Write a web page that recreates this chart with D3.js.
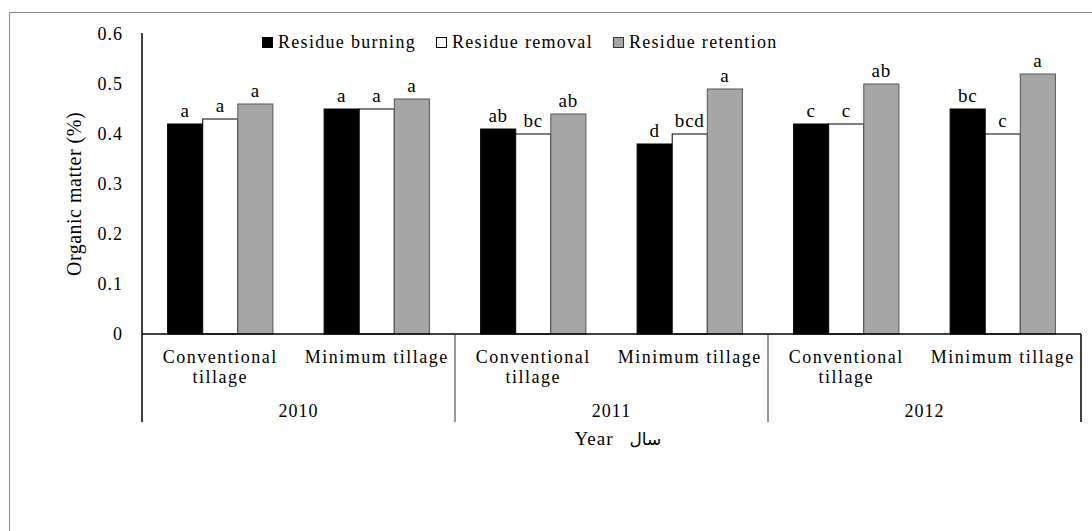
<!DOCTYPE html>
<html>
<head>
<meta charset="utf-8">
<script src="https://cdn.jsdelivr.net/npm/d3@7"></script>
<style>
  body { margin: 0; background: #fff; }
  text { font-family: "Liberation Serif", "Times New Roman", serif; fill: #000; }
</style>
</head>
<body>
<svg width="1092" height="531"></svg>
<script>
const svg = d3.select('svg');

// data
const years = ['2010', '2011', '2012'];
const tillage = ['Conventional tillage', 'Minimum tillage'];
const series = ['Residue burning', 'Residue removal', 'Residue retention'];
const burning   = [0.42, 0.45, 0.41, 0.38, 0.42, 0.45];
const removal   = [0.43, 0.45, 0.40, 0.40, 0.42, 0.40];
const retention = [0.46, 0.47, 0.44, 0.49, 0.50, 0.52];
const burningLetters   = ['a', 'a', 'ab', 'd', 'c', 'bc'];
const removalLetters   = ['a', 'a', 'bc', 'bcd', 'c', 'c'];
const retentionLetters = ['a', 'a', 'ab', 'a', 'ab', 'a'];
const yTicks = [0, 0.1, 0.2, 0.3, 0.4, 0.5, 0.6];

const fills = ['#000000', '#ffffff', '#a6a6a6'];
const strokes = ['#000000', '#000000', '#555555'];

const values = [burning, removal, retention];
const letters = [burningLetters, removalLetters, retentionLetters];

// 6 categories: year x tillage
const cats = [];
years.forEach(y => tillage.forEach(t => cats.push({ year: y, till: t, key: y + '|' + t })));

const plotLeft = 142, plotRight = 1081, plotTop = 34, plotBase = 334, plotBottom = 422;

const yScale = d3.scaleLinear().domain([0, 0.6]).range([plotBase, plotTop]);
const xScale = d3.scaleBand().domain(cats.map(d => d.key)).range([plotLeft, plotRight]);
const xSub = d3.scaleBand().domain(series).range([0, xScale.bandwidth()]).paddingOuter(0.73);

// outer frame
svg.append('rect')
  .attr('x', 9.5).attr('y', 12.5).attr('width', 1200).attr('height', 600)
  .attr('fill', 'none').attr('stroke', '#8c8c8c');

// y axis labels
svg.append('g').selectAll('text').data(yTicks).enter().append('text')
  .attr('x', 123)
  .attr('y', d => yScale(d))
  .attr('dy', '0.35em')
  .attr('text-anchor', 'end')
  .style('font-size', '18px')
  .style('letter-spacing', '1px')
  .text(d => d === 0 ? '0' : d.toFixed(1));

svg.append('text')
  .attr('transform', `translate(81,${(plotTop + plotBase) / 2 + 10}) rotate(-90)`)
  .attr('text-anchor', 'middle')
  .style('font-size', '20px')
  .style('letter-spacing', '0.5px')
  .text('Organic matter (%)');

// bars
const g = svg.append('g');
series.forEach((s, si) => {
  g.append('g').selectAll('rect').data(cats).enter().append('rect')
    .attr('x', d => xScale(d.key) + xSub(s))
    .attr('y', (d, i) => yScale(values[si][i]))
    .attr('width', xSub.bandwidth())
    .attr('height', (d, i) => plotBase - yScale(values[si][i]))
    .attr('fill', fills[si])
    .attr('stroke', strokes[si])
    .attr('stroke-width', 1);

  g.append('g').selectAll('text').data(cats).enter().append('text')
    .attr('x', d => xScale(d.key) + xSub(s) + xSub.bandwidth() / 2)
    .attr('y', (d, i) => yScale(values[si][i]) - 7)
    .attr('text-anchor', 'middle')
    .style('font-size', '19px')
    .style('letter-spacing', '0.8px')
    .text((d, i) => letters[si][i]);
});

// axes lines
svg.append('line').attr('x1', plotLeft).attr('x2', plotLeft).attr('y1', plotTop - 1).attr('y2', plotBottom)
  .attr('stroke', '#000').attr('stroke-width', 1.5);
svg.append('line').attr('x1', plotLeft).attr('x2', plotRight).attr('y1', plotBase).attr('y2', plotBase)
  .attr('stroke', '#000').attr('stroke-width', 1.5);

// year separators
const yearEdges = years.map((y, i) => xScale(cats[i * 2].key)).concat([plotRight]);
svg.append('g').selectAll('line').data(yearEdges.slice(1)).enter().append('line')
  .attr('x1', d => d).attr('x2', d => d)
  .attr('y1', plotBase).attr('y2', plotBottom)
  .attr('stroke', (d, i) => i === years.length - 1 ? '#000' : '#333')
  .attr('stroke-width', (d, i) => i === years.length - 1 ? 1.5 : 1);

// category labels
const catText = svg.append('g').selectAll('text').data(cats).enter().append('text')
  .attr('x', d => xScale(d.key) + xScale.bandwidth() / 2)
  .attr('y', 363)
  .attr('text-anchor', 'middle')
  .style('font-size', '18px')
  .style('letter-spacing', '1.5px');
catText.each(function (d) {
  const t = d3.select(this);
  const x = xScale(d.key) + xScale.bandwidth() / 2;
  if (d.till === 'Conventional tillage') {
    t.append('tspan').attr('x', x).attr('dy', 0).text('Conventional');
    t.append('tspan').attr('x', x).attr('dy', 20).text('tillage');
  } else {
    t.text(d.till);
  }
});

// year labels
svg.append('g').selectAll('text').data(years).enter().append('text')
  .attr('x', (d, i) => (yearEdges[i] + yearEdges[i + 1]) / 2)
  .attr('y', 417)
  .attr('text-anchor', 'middle')
  .style('font-size', '18px')
  .style('letter-spacing', '1px')
  .text(d => d);

// x title
const mid = (plotLeft + plotRight) / 2;
svg.append('text')
  .attr('x', mid + 2).attr('y', 445)
  .attr('text-anchor', 'end')
  .style('font-size', '19px')
  .style('letter-spacing', '1px')
  .text('Year');
svg.append('text')
  .attr('x', mid + 18).attr('y', 445)
  .attr('text-anchor', 'start')
  .style('font-family', '"DejaVu Sans", sans-serif')
  .style('font-size', '17px')
  .text('سال');

// legend
const legend = svg.append('g');
let lx = 262;
series.forEach((s, si) => {
  legend.append('rect')
    .attr('x', lx + 0.5).attr('y', 37.5).attr('width', 10).attr('height', 10)
    .attr('fill', fills[si]).attr('stroke', strokes[si] === '#000000' ? '#000' : '#333');
  const t = legend.append('text')
    .attr('x', lx + 16).attr('y', 48)
    .style('font-size', '18px')
    .style('letter-spacing', '1.3px')
    .text(s);
  lx += 16 + t.node().getComputedTextLength() + 20;
});
</script>
</body>
</html>
